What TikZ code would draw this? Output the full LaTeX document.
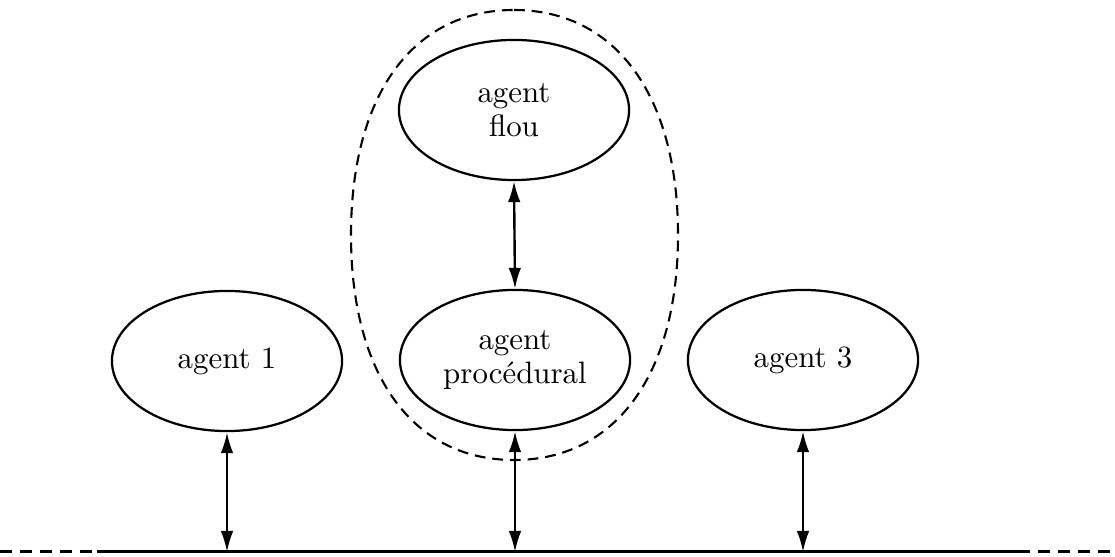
\documentclass[tikz,border=0pt]{standalone}
\usetikzlibrary{shapes.geometric,arrows.meta}
\begin{document}
\begin{tikzpicture}[x=0.3333pt,y=-0.3333pt,
  agentbox/.style={ellipse,draw,line width=0.75pt,minimum width=76.7pt,minimum height=46.7pt,
    inner sep=0pt,align=center,font=\fontsize{10.3}{11.5}\selectfont},
  link/.style={line width=0.8pt,{Latex[length=7pt,width=4.2pt]}-{Latex[length=7pt,width=4.2pt]}},
  groupline/.style={line width=0.7pt,dash pattern=on 3.6pt off 2.3pt},
  baseline/.style={line width=1pt}]
\useasboundingbox (0,0) rectangle (1115,557);

% group around the fuzzy and procedural agents (slightly full oval)
\coordinate (gT) at (514,10);
\coordinate (gR) at (678,235);
\coordinate (gB) at (514,460);
\coordinate (gL) at (351,235);
\draw[groupline] (gT) .. controls (615.7,10) and (678,95.5) .. (gR)
                      .. controls (678,374.5) and (615.7,460) .. (gB)
                      .. controls (412.3,460) and (351,374.5) .. (gL)
                      .. controls (351,95.5) and (412.3,10) .. (gT) -- cycle;

% agents
\node[agentbox] (a1) at (227,361) {agent 1};
\node[agentbox] (ap) at (515,360) {agent\\proc\'edural};
\node[agentbox] (af) at (514,110) {agent\\flou};
\node[agentbox] (a3) at (803,360) {agent 3};

% environment line: solid in the middle, dashed at both ends
\coordinate (eL) at (0,552);
\coordinate (sL) at (97,552);
\coordinate (sR) at (1018,552);
\coordinate (eR) at (1115,552);
\draw[baseline] (sL) -- (sR);
\draw[baseline,dash pattern=on 4pt off 2.7pt] (eL) -- (sL);
\draw[baseline,dash pattern=on 4pt off 2.7pt] (sR) -- (eR);

% exchanges
\draw[link] (af.south) -- (ap.north);
\draw[link] (a1.south) -- (a1.south |- sL);
\draw[link] (ap.south) -- (ap.south |- sL);
\draw[link] (a3.south) -- (a3.south |- sL);
\end{tikzpicture}
\end{document}
